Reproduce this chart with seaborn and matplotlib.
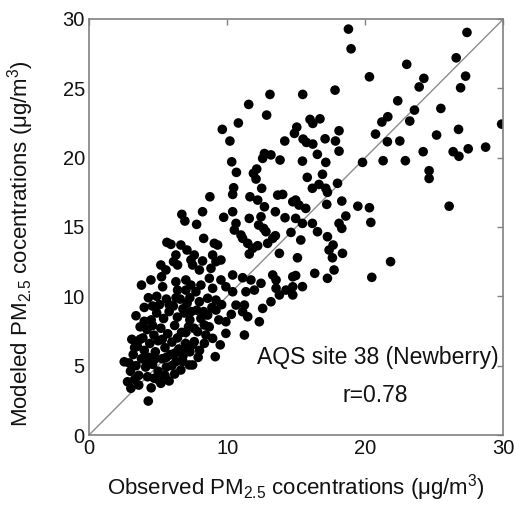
import numpy as np
import pandas as pd
import matplotlib
matplotlib.use("Agg")
import matplotlib.pyplot as plt
import seaborn as sns

# Observed vs modeled daily PM2.5 at AQS site 38 (Newberry)
observed = [
    13.1, 11.56, 12.86, 10.81, 9.65, 10.2, 14.17, 14.87, 15.04, 12.7,
    18.78, 18.97, 20.3, 15.47, 17.81, 22.35, 16.0, 16.72, 16.2, 18.1,
    21.2, 21.63, 20.74, 15.5, 15.74, 16.2, 17.09, 17.84, 21.6, 22.5,
    18.1, 16.53,
    27.36, 26.58, 23.0, 24.24, 23.9, 27.26, 26.9, 23.56, 25.47, 23.22,
    29.87, 26.75, 25.16, 24.19, 26.36, 26.78, 27.45, 28.71,
    22.9, 24.62, 24.62, 26.07,
    15.45, 17.14, 19.8, 21.29, 15.8, 16.9, 16.17, 16.65, 17.14, 17.26,
    17.99, 14.96, 15.2, 15.69, 17.21, 18.3, 19.46, 20.3, 18.59, 18.1,
    18.3, 20.4, 14.96, 15.45, 16.17, 16.54, 17.26, 15.33, 17.67, 17.38,
    18.35, 17.62, 15.09, 17.74, 16.34, 17.26, 20.47, 21.83, 15.45, 14.96,
    10.33, 10.67, 12.57, 13.17, 13.83, 12.14, 11.9, 12.09, 10.47, 10.4,
    8.75, 12.5, 11.65, 12.21, 13.66, 14.02, 14.75, 8.22, 7.79, 9.75,
    10.4, 10.64, 10.52, 11.0, 11.6, 12.7, 12.45, 12.28, 12.64, 12.81,
    13.49, 14.19, 13.49, 14.62, 8.3, 9.07, 9.31, 11.12, 11.49, 11.85,
    12.21, 11.6, 12.93, 13.3, 13.78, 7.62, 8.22, 8.95, 9.19, 9.55,
    8.83, 7.99, 7.5, 10.4, 11.12, 11.72, 12.45, 13.3, 13.54, 14.75,
    13.54, 14.26, 14.75, 8.71, 9.55, 9.91, 8.95, 8.1, 7.74, 10.4,
    11.36, 11.97,
    6.72, 6.94, 5.64, 5.93, 6.65, 7.09, 6.29, 6.12, 6.41, 5.2,
    5.57, 7.38, 5.25, 4.48, 3.8, 5.33, 6.29, 7.01, 6.41, 7.01, 7.38,
    7.99, 8.59, 9.19, 9.19, 8.59, 8.1, 8.35, 7.86, 8.46, 8.95,
    8.35, 7.62, 9.91, 9.91, 10.64, 11.25, 11.12, 11.49, 12.33, 12.57,
    13.17, 11.25, 9.14, 7.5, 14.75, 13.78,
    2.55, 2.79, 3.03, 4.29, 4.24, 4.72, 5.2, 6.65, 7.26,
    3.0, 3.2, 3.4, 3.5, 3.6, 3.8, 3.9, 4.0, 4.1, 4.2,
    4.3, 4.4, 4.5, 4.6, 4.7, 4.8, 4.9, 5.0, 5.0, 5.1,
    5.2, 5.3, 5.4, 5.5, 5.6, 5.6, 5.7, 5.8, 5.9, 6.0,
    6.1, 6.2, 6.3, 6.4, 6.5, 6.6, 6.7, 6.8, 6.9, 7.0,
    7.1, 7.2, 7.3, 7.4, 6.2, 5.8,
    3.3, 3.1, 3.7, 3.4, 4.0, 4.3, 4.6, 4.0, 3.7, 3.3,
    2.9, 3.6, 4.5, 5.0, 5.5, 6.0, 6.8, 7.0, 7.3, 6.4,
    5.3, 4.6, 5.8, 6.8, 7.3, 6.3, 4.9, 4.1, 4.8, 5.6,
    6.2, 6.9, 7.5, 7.6, 7.8, 8.0, 8.7, 9.4, 9.6, 8.9,
    8.3, 7.9, 9.5, 10.3,
]
modeled = [
    24.56, 23.84, 23.07, 22.5, 22.04, 21.2, 21.2, 21.75, 22.2, 20.3,
    29.27, 27.85, 25.83, 24.56, 24.87, 24.1, 22.76, 22.8, 22.47, 21.94,
    22.57, 22.95, 21.7, 21.34, 21.1, 20.98, 21.36, 21.2, 21.15, 21.2,
    20.47, 20.24,
    29.03, 27.2, 26.73, 25.72, 25.1, 25.88, 25.04, 23.43, 23.55, 22.64,
    22.42, 22.04, 21.63, 20.43, 20.43, 20.1, 20.64, 20.76,
    19.78, 19.06, 18.5, 16.5,
    19.75, 19.66, 19.66, 19.78, 18.58, 18.8, 17.79, 18.07, 17.79, 17.5,
    18.15, 16.94, 16.58, 16.34, 16.63, 16.87, 16.5, 16.39, 15.79, 15.26,
    14.9, 15.33, 15.62, 15.26, 15.26, 14.66, 14.3, 14.06, 13.7, 13.34,
    13.1, 12.78, 12.78, 11.9, 11.66, 11.3, 11.37, 12.5, 10.7, 11.5,
    19.7, 18.94, 19.95, 20.2, 19.83, 19.18, 18.87, 18.46, 17.83, 17.35,
    17.18, 17.79, 17.18, 16.94, 17.3, 17.35, 16.82, 16.1, 15.19, 15.7,
    16.1, 15.26, 14.78, 14.42, 15.62, 16.46, 15.74, 15.14, 14.9, 14.66,
    16.1, 15.67, 14.37, 14.61, 14.18, 13.82, 13.7, 14.18, 13.82, 13.46,
    13.65, 13.05, 13.82, 14.18, 13.1, 12.98, 12.55, 12.98, 12.5, 12.62,
    12.02, 11.9, 12.26, 11.54, 11.34, 11.18, 10.94, 11.54, 11.18, 11.41,
    10.58, 10.45, 10.69, 11.3, 11.18, 10.69, 10.58, 10.81, 10.33, 10.33,
    10.33, 10.45,
    15.91, 15.43, 13.89, 13.75, 13.7, 13.34, 12.98, 12.5, 12.26, 12.26,
    11.9, 12.62, 11.41, 11.18, 10.81, 10.69, 11.05, 11.18, 10.45, 10.45, 10.81,
    9.61, 9.86, 9.73, 9.01, 8.65, 8.41, 7.93, 7.45, 7.21, 6.97,
    6.61, 6.73, 8.17, 7.33, 9.37, 9.37, 8.89, 8.53, 8.17, 9.13,
    9.61, 7.21, 5.65, 5.05, 10.1, 10.1,
    5.28, 3.84, 3.37, 2.45, 4.2, 4.09, 3.73, 4.69, 5.05,
    4.6, 5.8, 5.0, 6.4, 4.3, 5.5, 7.0, 6.1, 4.9, 7.6,
    5.6, 6.6, 8.3, 5.1, 7.2, 6.0, 8.8, 4.6, 6.8, 9.4,
    7.7, 5.5, 8.4, 6.3, 9.8, 4.9, 7.3, 8.9, 5.8, 6.7,
    9.3, 7.9, 5.3, 8.5, 6.2, 9.8, 7.4, 5.7, 8.8, 6.6,
    9.5, 7.8, 6.0, 8.9, 4.4, 3.9,
    4.0, 6.9, 7.8, 8.6, 9.2, 9.9, 9.3, 8.2, 6.9, 6.3,
    5.2, 3.6, 3.4, 4.0, 4.3, 5.0, 5.3, 7.4, 8.3, 7.0,
    6.9, 7.9, 9.4, 9.1, 9.9, 9.9, 10.0, 5.4, 5.5, 5.6,
    5.9, 6.2, 6.5, 7.7, 9.0, 6.1, 7.8, 8.3, 9.4, 9.2,
    8.9, 5.6, 6.5, 8.7,
]
x_ticks = [0, 10, 20, 30]
y_ticks = [0, 5, 10, 15, 20, 25, 30]

df = pd.DataFrame({"observed": observed, "modeled": modeled})

sns.set_theme(style="white")
plt.rcParams["font.family"] = ["Liberation Sans", "DejaVu Sans"]
plt.rcParams["mathtext.fontset"] = "custom"
plt.rcParams["mathtext.rm"] = "Liberation Sans"
plt.rcParams["mathtext.it"] = "Liberation Sans"

fig = plt.figure(figsize=(5.19, 5.05), dpi=100)
ax = fig.add_axes([0.1715, 0.1386, 0.7985, 0.8238])

# 1:1 reference line
ax.plot([0, 30], [0, 30], color="#8c8c8c", linewidth=1.0, zorder=1)

sns.scatterplot(data=df, x="observed", y="modeled", ax=ax, color="black",
                s=48, edgecolor="none", linewidth=0, zorder=2, legend=False)

ax.set_xlim(0, 30)
ax.set_ylim(0, 30)
ax.set_xticks(x_ticks)
ax.set_yticks(y_ticks)
ax.tick_params(direction="in", length=4, width=1, color="#808080",
               top=True, right=True, labelsize=14.5, labelcolor="#111111", pad=3)
for sp in ax.spines.values():
    sp.set_color("#808080")
    sp.set_linewidth(1.2)

ax.set_xlabel(r"Observed PM$_{\mathregular{2.5}}$ cocentrations (μg/m$^{\mathregular{3}}$)",
              fontsize=16, color="#111111", labelpad=10)
ax.set_ylabel(r"Modeled PM$_{\mathregular{2.5}}$ cocentrations (μg/m$^{\mathregular{3}}$)",
              fontsize=16, color="#111111")
ax.yaxis.set_label_coords(-0.128, 0.46)

ax.text(20.9, 5.6, "AQS site 38 (Newberry)", fontsize=16.5, ha="center",
        va="center", color="#111111")
ax.text(20.7, 2.85, "r=0.78", fontsize=16.5, ha="center", va="center",
        color="#111111")

fig.savefig("out.png", dpi=100)
